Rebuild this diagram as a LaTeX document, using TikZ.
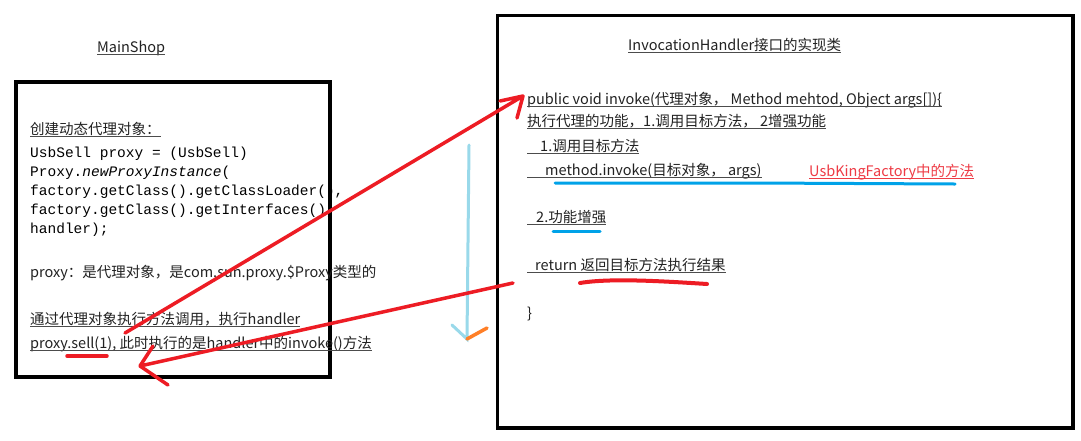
\documentclass[tikz,border=0pt]{standalone}
\usepackage{fontspec}
\setmainfont{Noto Sans CJK SC}
\setmonofont{Liberation Mono}
\definecolor{pred}{HTML}{ED1C24}
\definecolor{pblue}{HTML}{00A2E8}
\definecolor{plight}{HTML}{99D9EA}
\definecolor{porange}{HTML}{FF7F27}
\definecolor{tred}{HTML}{EE3B45}
\definecolor{tdark}{HTML}{222222}
\begin{document}
\begin{tikzpicture}[x=1pt,y=-1pt,
  frame/.style={draw=black, line width=4pt, inner sep=0pt, anchor=north west},
  txt/.style={anchor=base west, inner sep=0pt, text=tdark, font=\fontsize{14.5}{17}\selectfont},
  code/.style={anchor=base west, inner sep=0pt, text=black, font=\ttfamily\fontsize{14.5}{17}\selectfont},
  ulline/.style={draw=black!70, line width=1pt},
  redpen/.style={draw=pred, line width=3.5pt, line cap=round, line join=round},
  bluepen/.style={draw=pblue, line width=3pt, line cap=round},
]
\useasboundingbox (0,0) rectangle (1081,440);
\fill[white] (0,0) rectangle (1081,440);
\newcommand{\ulnode}[1]{\draw[ulline] ([yshift=-2pt]#1.base west) -- ([yshift=-2pt]#1.base east);}

% frames
\node[frame, minimum width=313.5pt, minimum height=294.5pt] (shop) at (14,80) {};
\node[frame, line width=3.5pt, minimum width=575.5pt, minimum height=412.5pt] (handlerbox) at (495.5,13.5) {};

% left texts
\node[txt] (t1) at (97,52) {MainShop}; \ulnode{t1}
\node[txt] (t2) at (30,134) {创建动态代理对象：}; \ulnode{t2}
\node[code] (c1) at (30,157) {UsbSell proxy = (UsbSell)};
\node[code] (c2) at (30,176) {Proxy.\textit{newProxyInstance}(};
\node[code] (c3) at (30,195) {factory.getClass().getClassLoader(),};
\node[code] (c4) at (30,214) {factory.getClass().getInterfaces(),};
\node[code] (c5) at (30,233) {handler);};
\node[txt] (t3) at (30,277) {proxy：是代理对象，是com.sun.proxy.\$Proxy类型的};
\node[txt] (t4) at (30,324) {通过代理对象执行方法调用，执行handler}; \ulnode{t4}
\node[txt] (t5) at (30,348) {proxy.sell(1), 此时执行的是handler中的invoke()方法}; \ulnode{t5}

% right texts
\node[txt] (r0) at (628,50) {InvocationHandler接口的实现类}; \ulnode{r0}
\node[txt] (r1) at (527,104) {public void invoke(代理对象， Method mehtod, Object args[])\{}; \ulnode{r1}
\node[txt] (r2) at (527,126) {执行代理的功能，1.调用目标方法， 2增强功能}; \ulnode{r2}
\node[txt] (r3) at (527,151) {\hspace*{13pt}1.调用目标方法}; \ulnode{r3}
\node[txt] (r4) at (527,175) {\hspace*{18pt}method.invoke(目标对象， args)}; \ulnode{r4}
\node[txt, text=tred] (r5) at (809,176) {UsbKingFactory中的方法};
\draw[draw=tred, line width=1pt] ([yshift=-2pt]r5.base west) -- ([yshift=-2pt]r5.base east);
\node[txt] (r6) at (527,222) {\hspace*{9pt}2.功能增强}; \ulnode{r6}
\node[txt] (r7) at (527,270) {\hspace*{8pt}return 返回目标方法执行结果}; \ulnode{r7}
\node[txt] (r8) at (527,318) {\}};

% marker strokes
\coordinate (b1s) at (555,183); \coordinate (b1m) at (756,183); \coordinate (b1e) at (955,184);
\draw[bluepen] (b1s) -- (b1m) -- (b1e);
\coordinate (b2s) at (553,231); \coordinate (b2e) at (600,231);
\draw[bluepen] (b2s) -- (b2e);
\coordinate (u1s) at (580,283); \coordinate (u1e) at (707,284);
\draw[redpen, line width=4pt] (u1s) .. controls (610,278) and (660,281) .. (u1e);
\coordinate (u2s) at (67,356); \coordinate (u2e) at (107,356);
\draw[redpen] (u2s) -- (u2e);

% light blue arrow
\coordinate (la) at (469,145); \coordinate (lb) at (467,339);
\draw[draw=plight, line width=3pt, line cap=round] (la) -- (lb) -- ++(-15,-14);
\draw[draw=porange, line width=3.5pt, line cap=round] (lb) -- ++(20,-11);

% red arrows
\coordinate (a1s) at (125,333); \coordinate (a1e) at (523,96);
\draw[redpen] (a1s) -- (a1e) -- ++(-23,5) (a1e) -- ++(-6,22);
\coordinate (a2s) at (513,283); \coordinate (a2e) at (140,366);
\draw[redpen] (a2s) -- (a2e) -- ++(13,-20) (a2e) -- ++(28,19);
\end{tikzpicture}
\end{document}
